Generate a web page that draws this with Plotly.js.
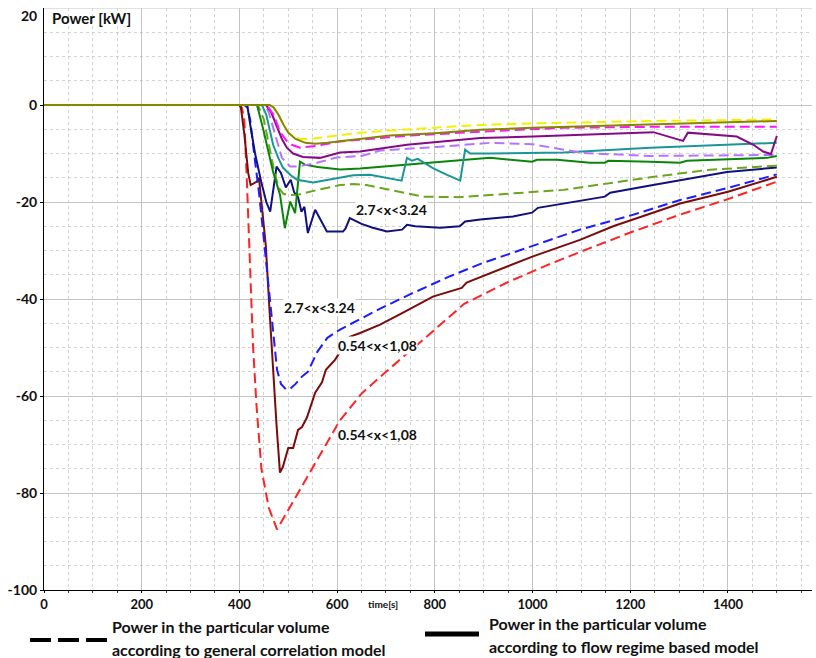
<!DOCTYPE html>
<html>
<head>
<meta charset="utf-8">
<script src="https://cdn.plot.ly/plotly-3.0.1.min.js"></script>
<style>html,body{margin:0;padding:0;background:#fff;}#chart{width:816px;height:658px;}</style>
</head>
<body>
<div id="chart"></div>
<script>
// ---- Data (time [s], power [kW]) ----
// 0.54<x<1.08, general correlation model (dashed red)
const redX = [0, 400, 405, 410, 415, 420, 428, 435, 445, 460, 477, 520, 560, 606, 650, 700, 776, 860, 950, 1030, 1100, 1200, 1302, 1400, 1500];
const redY = [0, 0, -0.5, -3, -15, -28, -50, -62, -75, -83, -87.5, -80, -73, -65, -59.5, -55, -48.4, -41, -36.5, -33, -30.2, -26.3, -22.6, -19.4, -15.8];
// 0.54<x<1.08, flow regime model (solid maroon)
const maroonX = [0, 400, 403, 410, 418, 423, 436, 440, 447, 454, 462, 469, 476, 483, 489, 500, 510, 520, 528, 538, 549, 555, 569, 577, 596, 626, 647, 688, 735, 796, 855, 865, 1001, 1097, 1165, 1302, 1400, 1500];
const maroonY = [0, 0, -0.5, -6, -14, -16.5, -15.8, -15, -22, -29, -43, -55, -66, -75.8, -74.6, -70.7, -70.7, -67, -66.4, -64.5, -61.4, -59.3, -57.2, -54.6, -52.5, -47.8, -47, -45.3, -42.8, -39.5, -37.7, -36.6, -31.2, -27.8, -25, -20.3, -17.9, -14.8];
// 2.7<x<3.24, general correlation model (dashed blue)
const blueX = [0, 410, 416, 422, 430, 440, 448, 465, 477, 485, 495, 504, 515, 528, 540, 560, 580, 606, 647, 688, 750, 831, 900, 995, 1097, 1200, 1302, 1400, 1500];
const blueY = [0, 0, -0.5, -3, -10, -18, -25.7, -42, -54.6, -57.5, -58.6, -58.5, -57.5, -56, -55, -50.8, -48, -46.3, -44.2, -42, -39, -35.3, -32.5, -29.2, -25.7, -22.8, -19.6, -17.1, -14.3];
// 2.7<x<3.24, flow regime model (solid navy)
const navyX = [0, 410, 416, 422, 432, 445, 455, 463, 476, 485, 495, 505, 512, 520, 527, 533, 540, 555, 565, 579, 612, 617, 626, 650, 673, 702, 733, 743, 760, 811, 851, 862, 893, 960, 999, 1011, 1148, 1159, 1241, 1308, 1398, 1500];
const navyY = [0, 0, 0, -4, -10, -16, -20, -22, -12.7, -14, -17, -15.4, -18, -19, -22, -21, -26.4, -21.6, -23.5, -26.1, -26.1, -25.5, -23.3, -24.5, -25.3, -26.1, -25.7, -24.7, -25, -25.3, -25, -24, -23.6, -23, -22.2, -21.2, -18.9, -18.1, -16.6, -15.4, -13.8, -12.9];
// green dashed
const greenDX = [0, 438, 450, 460, 470, 480, 490, 500, 520, 560, 606, 633, 660, 708, 776, 850, 913, 1063, 1241, 1357, 1500];
const greenDY = [0, 0, -3, -8, -13, -17, -18.3, -18.6, -18.5, -17.5, -16.5, -16.3, -16.5, -17.5, -18.9, -19, -18.6, -17.5, -14.9, -13.4, -12.5];
// green solid
const greenX = [0, 436, 448, 460, 469, 483, 493, 504, 514, 524, 534, 560, 606, 647, 743, 893, 913, 999, 1009, 1050, 1118, 1148, 1155, 1241, 1302, 1316, 1480, 1500];
const greenY = [0, 0, -4.7, -10, -13.8, -18.5, -25.4, -19.9, -22.3, -11.7, -12.3, -12.8, -13.3, -13.1, -12.3, -11.1, -10.9, -11.7, -11.3, -11.3, -11.9, -11.9, -11.5, -11.7, -11.9, -11.5, -10.9, -10.5];
// teal solid
const tealX = [0, 446, 455, 462, 469, 480, 489, 505, 518, 551, 585, 612, 633, 667, 732, 743, 753, 765, 796, 825, 852, 862, 872, 913, 1063, 1241, 1500];
const tealY = [0, 0, -2, -5, -8.2, -11, -12.9, -14.5, -15.4, -16, -15.4, -14.9, -14.5, -14.4, -15.6, -10.9, -11.5, -11.1, -13, -14.4, -15.6, -9.2, -10, -10, -9.8, -8.8, -7.8];
// lavender dashed
const lavX = [0, 452, 460, 469, 478, 487, 504, 520, 559, 600, 650, 688, 811, 913, 1001, 1063, 1103, 1241, 1500];
const lavY = [0, 0, -1.5, -4.7, -8, -10.9, -12.7, -12.7, -11.9, -10.8, -10.5, -9.4, -8.6, -7.8, -8.1, -9.2, -9.9, -10.5, -10.3];
// purple solid
const purpleX = [0, 454, 465, 477, 487, 497, 510, 530, 565, 606, 647, 743, 893, 1001, 1097, 1247, 1308, 1318, 1418, 1452, 1472, 1488, 1500];
const purpleY = [0, 0, -1.5, -4.7, -7, -8.8, -10, -10.7, -10.9, -9.8, -9.6, -8.2, -6.8, -6.5, -6.1, -5.6, -7.4, -5.7, -6.5, -8.2, -9.6, -10.1, -6.4];
// magenta dashed
const magX = [0, 456, 470, 483, 495, 507, 524, 559, 606, 647, 750, 913, 1063, 1241, 1500];
const magY = [0, 0, -2, -5.5, -7.2, -8.2, -8.8, -8.4, -7.5, -7.2, -6.3, -5.4, -4.7, -4.5, -4.5];
// yellow dashed
const yellowX = [0, 462, 470, 480, 490, 500, 510, 525, 545, 580, 647, 750, 893, 1000, 1241, 1500];
const yellowY = [0, 0, -0.5, -2, -4, -5.6, -6.5, -7, -7, -6.6, -5.7, -5, -4.1, -3.8, -3.3, -3.0];
// olive solid
const oliveX = [0, 462, 470, 480, 490, 500, 515, 535, 555, 580, 610, 650, 708, 800, 893, 1000, 1100, 1241, 1400, 1500];
const oliveY = [0, 0, -0.5, -2, -4, -5.7, -7, -7.8, -8, -7.8, -7.4, -6.9, -6.3, -5.8, -5.1, -4.7, -4.4, -4.1, -3.6, -3.3];

const xTicks = [0, 200, 400, 600, 800, 1000, 1200, 1400];
const yTicks = [-100, -80, -60, -40, -20, 0];
const rangeLabels = ['2.7<x<3.24', '2.7<x<3.24', '0.54<x<1,08', '0.54<x<1,08'];
const labelX = [712, 563, 683, 683];
const labelY = [-21.6, -41.8, -49.6, -68.0];

const DASH = '10px,5px';
function tr(x, y, color, dashed) {
  return {x: x, y: y, type: 'scatter', mode: 'lines', hoverinfo: 'skip',
    line: {color: color, width: 2, dash: dashed ? DASH : 'solid'}};
}
const data = [
  tr(redX, redY, '#ff2424', true),
  tr(maroonX, maroonY, '#7b0c0c', false),
  tr(blueX, blueY, '#1c1cff', true),
  tr(navyX, navyY, '#10107e', false),
  tr(greenDX, greenDY, '#6aa51c', true),
  tr(greenX, greenY, '#0a850a', false),
  tr(tealX, tealY, '#1b9696', false),
  tr(lavX, lavY, '#b673ff', true),
  tr(purpleX, purpleY, '#860a86', false),
  tr(magX, magY, '#ff14ff', true),
  tr(yellowX, yellowY, '#f2f200', true),
  tr(oliveX, oliveY, '#858500', false)
];

const F = 'Lato, "Open Sans", sans-serif';
const esc = s => s.replace(/</g, '&lt;');
const annotations = [];
for (let i = 0; i < rangeLabels.length; i++) {
  annotations.push({x: labelX[i], y: labelY[i], xref: 'x', yref: 'y', xanchor: 'center', yanchor: 'middle',
    text: '<b>' + esc(rangeLabels[i]) + '</b>',
    showarrow: false, bgcolor: '#ffffff', borderpad: 0,
    font: {family: F, size: 14, color: '#111'}});
}
const px = v => (v - 44) / 768;
const py = v => (590 - v) / 582;
function note(text, x, y, size, xanchor) {
  return {x: px(x), y: py(y), xref: 'paper', yref: 'paper', xanchor: xanchor, yanchor: 'middle',
    text: '<b>' + text + '</b>', showarrow: false, borderpad: 0, font: {family: F, size: size, color: '#111'}};
}
annotations.push(
  note('Power [kW]', 51, 18, 15, 'left'),
  note('20', 38, 16, 14, 'right'),
  note('time[s]', 383, 604, 10, 'center'),
  note('Power in the particular volume', 111, 626, 16, 'left'),
  note('according to general correlation model', 111, 649, 16, 'left'),
  note('Power in the particular volume', 488, 623, 16, 'left'),
  note('according to flow regime based model', 488, 646, 16, 'left')
);
const shapes = [
  {type: 'line', xref: 'paper', yref: 'paper', x0: px(30), x1: px(108), y0: py(640), y1: py(640),
    line: {color: '#000', width: 4, dash: '21px,7px'}},
  {type: 'line', xref: 'paper', yref: 'paper', x0: px(425), x1: px(479), y0: py(634), y1: py(634),
    line: {color: '#000', width: 5}},
  {type: 'line', xref: 'paper', yref: 'y', x0: 0, x1: 1, y0: 20, y1: 20, layer: 'below', line: {color: '#c4c4c4', width: 1}}
];

const layout = {
  width: 816, height: 658,
  margin: {l: 44, r: 4, t: 8, b: 68},
  paper_bgcolor: '#fff', plot_bgcolor: '#fff',
  showlegend: false,
  font: {family: F, color: '#111'},
  xaxis: {
    range: [0, 1572], tickvals: xTicks, ticktext: xTicks.map(v => '<b>' + v + '</b>'),
    showgrid: true, gridcolor: '#c4c4c4', gridwidth: 1, zeroline: false,
    showline: true, linecolor: '#000', linewidth: 1,
    ticks: 'outside', ticklen: 2, tickcolor: '#000',
    tickfont: {family: F, size: 13, color: '#111'},
    minor: {dtick: 50, showgrid: true, gridcolor: '#d2d2d2', griddash: 'dot', gridwidth: 1, ticks: 'outside', ticklen: 2, tickcolor: '#444'}
  },
  yaxis: {
    range: [-100, 20], tickvals: yTicks, ticktext: yTicks.map(v => '<b>' + v + '</b>'),
    showgrid: true, gridcolor: '#c4c4c4', gridwidth: 1, zeroline: false,
    showline: true, linecolor: '#000', linewidth: 1,
    ticks: 'outside', ticklen: 3, tickcolor: '#000',
    tickfont: {family: F, size: 14, color: '#111'},
    minor: {dtick: 5, showgrid: true, gridcolor: '#d2d2d2', griddash: 'dot', gridwidth: 1}
  },
  annotations: annotations,
  shapes: shapes
};

Plotly.newPlot('chart', data, layout, {displayModeBar: false, staticPlot: true});
</script>
</body>
</html>
